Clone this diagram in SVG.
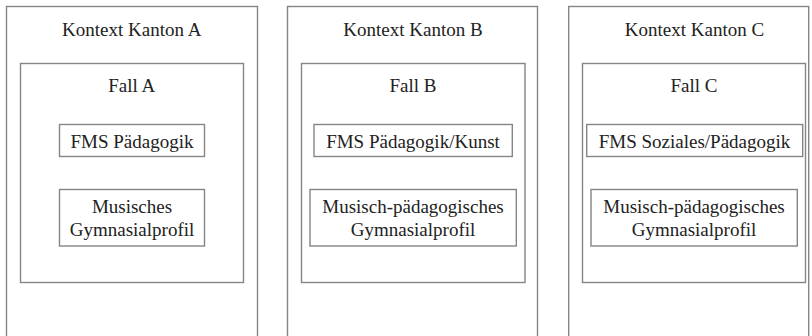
<svg xmlns="http://www.w3.org/2000/svg" width="812" height="336" viewBox="0 0 812 336">
<style>
rect{fill:#fff;stroke:#858585;stroke-width:1.4}
text{font-family:"Liberation Serif","Times New Roman",serif;font-size:19px;fill:#222;text-anchor:middle}
</style>
<rect x="0" y="0" width="812" height="336" style="stroke:none"/>
<g id="kanton-a">
<rect x="6.5" y="6.5" width="251" height="335"/>
<text x="131.7" y="36">Kontext Kanton A</text>
<g id="fall-a">
<rect x="20.5" y="63.5" width="223" height="219"/>
<text x="131.7" y="92">Fall A</text>
</g>
<g id="a-fms"><rect x="59.5" y="124.5" width="145" height="32"/><text x="132" y="148">FMS Pädagogik</text></g>
<g id="a-gym"><rect x="59.5" y="189.5" width="145" height="56.5"/><text x="132" y="213">Musisches</text><text x="132" y="236">Gymnasialprofil</text></g>
</g>
<g id="kanton-b">
<rect x="287.5" y="6.5" width="250" height="335"/>
<text x="413" y="36">Kontext Kanton B</text>
<g id="fall-b">
<rect x="301.5" y="63.5" width="223.5" height="219"/>
<text x="413" y="92">Fall B</text>
</g>
<g id="b-fms"><rect x="314" y="124.5" width="198.3" height="32"/><text x="413" y="148">FMS Pädagogik/Kunst</text></g>
<g id="b-gym"><rect x="310" y="189.5" width="206.3" height="56.5"/><text x="413" y="213">Musisch-pädagogisches</text><text x="413" y="236">Gymnasialprofil</text></g>
</g>
<g id="kanton-c">
<rect x="568.7" y="6.5" width="240" height="335"/>
<text x="694.5" y="36">Kontext Kanton C</text>
<g id="fall-c">
<rect x="582.5" y="63.5" width="223" height="219"/>
<text x="694" y="92">Fall C</text>
</g>
<g id="c-fms"><rect x="586.7" y="124.5" width="216" height="32"/><text x="694.5" y="148">FMS Soziales/Pädagogik</text></g>
<g id="c-gym"><rect x="591" y="189.5" width="206.3" height="56.5"/><text x="694" y="213">Musisch-pädagogisches</text><text x="694" y="236">Gymnasialprofil</text></g>
</g>
<g id="connectors"></g>
</svg>
